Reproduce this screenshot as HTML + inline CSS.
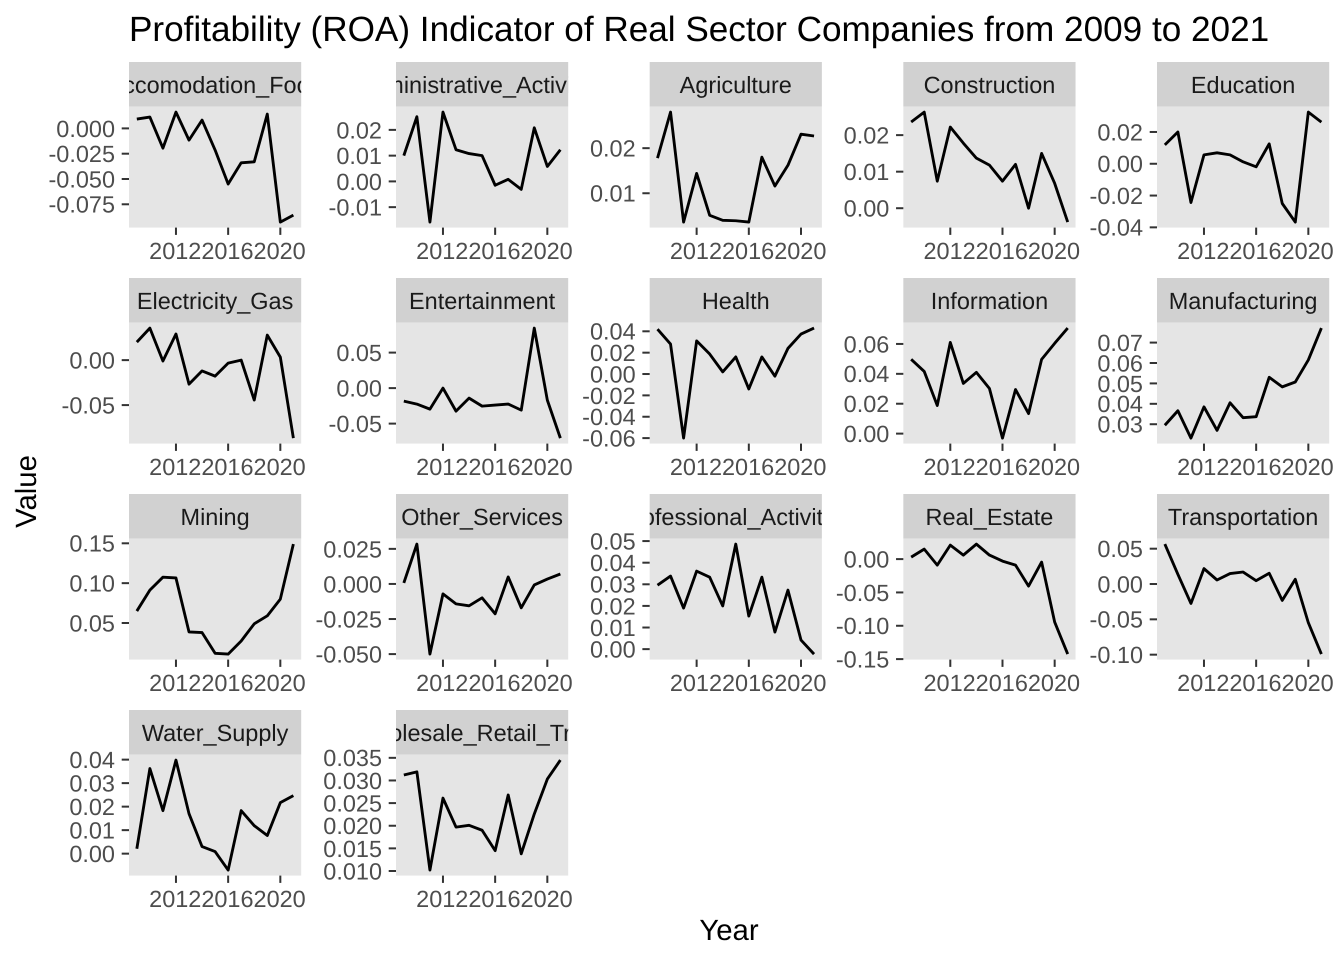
<!DOCTYPE html>
<html lang="en">
<head>
<meta charset="utf-8">
<title>Profitability (ROA) Indicator of Real Sector Companies</title>
<style>
  html, body { margin: 0; padding: 0; background: #ffffff; }
  svg { display: block; font-family: "Liberation Sans", Arial, sans-serif; text-rendering: geometricPrecision; }
</style>
</head>
<body>
<svg id="chart" width="1344" height="960" viewBox="0 0 1344 960" xmlns="http://www.w3.org/2000/svg">
  <rect width="1344" height="960" fill="#ffffff"/>
  <text x="129" y="41" font-size="35.14" fill="#000000">Profitability (ROA) Indicator of Real Sector Companies from 2009 to 2021</text>
  <text x="729" y="940" font-size="29.33" fill="#000000" text-anchor="middle">Year</text>
  <text transform="translate(36 491.5) rotate(-90)" font-size="29.33" fill="#000000" text-anchor="middle">Value</text>
  <g id="panels"></g>
</svg>
<script>
const years = [2009, 2010, 2011, 2012, 2013, 2014, 2015, 2016, 2017, 2018, 2019, 2020, 2021];
const xTickYears = [2012, 2016, 2020];

const accommodationValues = [0.0092, 0.0112, -0.0195, 0.0161, -0.0116, 0.0082, -0.0214, -0.055, -0.034, -0.033, 0.0141, -0.0926, -0.0857];
const administrativeValues = [0.01, 0.0251, -0.0158, 0.0269, 0.0123, 0.0108, 0.01, -0.0015, 0.0008, -0.0031, 0.0208, 0.0058, 0.0123];
const agricultureValues = [0.0178, 0.028, 0.0036, 0.0144, 0.0051, 0.004, 0.0039, 0.0036, 0.018, 0.0116, 0.0162, 0.0231, 0.0227];
const constructionValues = [0.0236, 0.0263, 0.0074, 0.0222, 0.0178, 0.0137, 0.0118, 0.0074, 0.012, 0.0, 0.015, 0.0068, -0.0038];
const educationValues = [0.0119, 0.02, -0.0244, 0.0056, 0.0069, 0.0056, 0.0012, -0.0019, 0.0125, -0.025, -0.0367, 0.0325, 0.0262];
const electricityValues = [0.02, 0.0356, -0.001, 0.029, -0.0267, -0.012, -0.0178, -0.0033, 0.0, -0.0444, 0.0278, 0.0033, -0.0867];
const entertainmentValues = [-0.0183, -0.0225, -0.0296, 0.0, -0.0324, -0.0141, -0.0254, -0.0239, -0.0225, -0.031, 0.0845, -0.0169, -0.0704];
const healthValues = [0.042, 0.028, -0.06, 0.031, 0.0187, 0.002, 0.016, -0.014, 0.016, -0.002, 0.024, 0.0374, 0.043];
const informationValues = [0.0497, 0.0416, 0.0188, 0.061, 0.0336, 0.041, 0.0302, -0.003, 0.0295, 0.0134, 0.0497, 0.0604, 0.0706];
const manufacturingValues = [0.0295, 0.0366, 0.0232, 0.0385, 0.027, 0.0405, 0.0332, 0.0337, 0.053, 0.0483, 0.0507, 0.0615, 0.0771];
const miningValues = [0.065, 0.0913, 0.1075, 0.1065, 0.0388, 0.038, 0.012, 0.011, 0.0275, 0.049, 0.059, 0.08, 0.149];
const otherServicesValues = [0.0007, 0.0284, -0.05, -0.0071, -0.0142, -0.0156, -0.0099, -0.0213, 0.005, -0.017, -0.0007, 0.0035, 0.0071];
const professionalValues = [0.0296, 0.0338, 0.019, 0.0361, 0.0333, 0.02, 0.0486, 0.0153, 0.0333, 0.0079, 0.0273, 0.0042, -0.0023];
const realEstateValues = [0.003, 0.015, -0.009, 0.021, 0.006, 0.0225, 0.006, -0.003, -0.009, -0.0405, -0.0045, -0.0945, -0.1425];
const transportationValues = [0.0565, 0.0137, -0.0275, 0.0218, 0.0057, 0.0148, 0.017, 0.0048, 0.0152, -0.0232, 0.0067, -0.0548, -0.0992];
const waterSupplyValues = [0.0021, 0.0362, 0.0183, 0.0398, 0.017, 0.003, 0.0009, -0.007, 0.0183, 0.0119, 0.0077, 0.0217, 0.0247];
const wholesaleValues = [0.0312, 0.0319, 0.0102, 0.0261, 0.0197, 0.0201, 0.019, 0.0145, 0.0268, 0.0138, 0.0226, 0.0303, 0.0345];

const accommodationTicks = ["0.000", "-0.025", "-0.050", "-0.075"];
const administrativeTicks = ["0.02", "0.01", "0.00", "-0.01"];
const agricultureTicks = ["0.02", "0.01"];
const constructionTicks = ["0.02", "0.01", "0.00"];
const educationTicks = ["0.02", "0.00", "-0.02", "-0.04"];
const electricityTicks = ["0.00", "-0.05"];
const entertainmentTicks = ["0.05", "0.00", "-0.05"];
const healthTicks = ["0.04", "0.02", "0.00", "-0.02", "-0.04", "-0.06"];
const informationTicks = ["0.06", "0.04", "0.02", "0.00"];
const manufacturingTicks = ["0.07", "0.06", "0.05", "0.04", "0.03"];
const miningTicks = ["0.15", "0.10", "0.05"];
const otherServicesTicks = ["0.025", "0.000", "-0.025", "-0.050"];
const professionalTicks = ["0.05", "0.04", "0.03", "0.02", "0.01", "0.00"];
const realEstateTicks = ["0.00", "-0.05", "-0.10", "-0.15"];
const transportationTicks = ["0.05", "0.00", "-0.05", "-0.10"];
const waterSupplyTicks = ["0.04", "0.03", "0.02", "0.01", "0.00"];
const wholesaleTicks = ["0.035", "0.030", "0.025", "0.020", "0.015", "0.010"];

const sectorNames = ["Accomodation_Food", "Administrative_Activities", "Agriculture", "Construction", "Education", "Electricity_Gas", "Entertainment", "Health", "Information", "Manufacturing", "Mining", "Other_Services", "Professional_Activities", "Real_Estate", "Transportation", "Water_Supply", "Wholesale_Retail_Trade"];
const sectorSeries = [accommodationValues, administrativeValues, agricultureValues, constructionValues, educationValues, electricityValues, entertainmentValues, healthValues, informationValues, manufacturingValues, miningValues, otherServicesValues, professionalValues, realEstateValues, transportationValues, waterSupplyValues, wholesaleValues];
const sectorTicks = [accommodationTicks, administrativeTicks, agricultureTicks, constructionTicks, educationTicks, electricityTicks, entertainmentTicks, healthTicks, informationTicks, manufacturingTicks, miningTicks, otherServicesTicks, professionalTicks, realEstateTicks, transportationTicks, waterSupplyTicks, wholesaleTicks];

const NS = "http://www.w3.org/2000/svg";
const COLUMNS = 5;
const PANEL_W = 172.2;
const STRIP_H = 44.6;
const PANEL_H = 121;
const TICK_LEN = 7.3;

function columnLeft(col) {
  return col === 0 ? 129 : 396 + (col - 1) * 253.67;
}
function rowTop(row) {
  return 62 + row * 216;
}
function make(tag, attrs, parent) {
  const el = document.createElementNS(NS, tag);
  Object.keys(attrs).forEach(function (k) { el.setAttribute(k, attrs[k]); });
  parent.appendChild(el);
  return el;
}
function slug(name) {
  return name.toLowerCase().replace(/_/g, "-");
}

const root = document.getElementById("panels");
const xMin = years[0] - 0.05 * (years[years.length - 1] - years[0]);
const xMax = years[years.length - 1] + 0.05 * (years[years.length - 1] - years[0]);

sectorNames.forEach(function (name, i) {
  const col = i % COLUMNS;
  const row = Math.floor(i / COLUMNS);
  const left = columnLeft(col);
  const top = rowTop(row);
  const panelTop = top + STRIP_H;
  const panelBottom = panelTop + PANEL_H;
  const values = sectorSeries[i];

  const low = Math.min.apply(null, values);
  const high = Math.max.apply(null, values);
  const pad = (high - low) * 0.05;
  const xScale = function (year) { return left + PANEL_W * (year - xMin) / (xMax - xMin); };
  const yScale = function (v) { return panelBottom - PANEL_H * (v - (low - pad)) / ((high + pad) - (low - pad)); };

  const group = make("g", {}, root);
  
  

  const clip = make("clipPath", { id: "strip-clip-" + i }, group);
  make("rect", { x: left, y: top, width: PANEL_W, height: STRIP_H }, clip);

  const strip = make("rect", { x: left, y: top, width: PANEL_W, height: STRIP_H, fill: "#D1D1D1" }, group);
  
  

  const stripLabelGroup = make("g", { "clip-path": "url(#strip-clip-" + i + ")" }, group);
  const stripLabel = make("text", { x: left + PANEL_W / 2, y: top + 31, "font-size": 23.47, fill: "#1A1A1A", "text-anchor": "middle" }, stripLabelGroup);
  
  
  stripLabel.textContent = name;

  const panel = make("rect", { x: left, y: panelTop, width: PANEL_W, height: PANEL_H, fill: "#E5E5E5" }, group);
  
  

  sectorTicks[i].forEach(function (label) {
    const y = yScale(parseFloat(label));
    const tick = make("line", { x1: left - TICK_LEN, x2: left, y1: y, y2: y, stroke: "#333333", "stroke-width": 2 }, group);
    
    
    const text = make("text", { x: left - 14, y: y + 8.4, "font-size": 23.47, fill: "#4D4D4D", "text-anchor": "end" }, group);
    
    
    text.textContent = label;
  });

  xTickYears.forEach(function (year) {
    const x = xScale(year);
    const tick = make("line", { x1: x, x2: x, y1: panelBottom, y2: panelBottom + TICK_LEN, stroke: "#333333", "stroke-width": 2 }, group);
    
    
    const text = make("text", { x: x - 0.7, y: panelBottom + 31.3, "font-size": 23.47, fill: "#4D4D4D", "text-anchor": "middle" }, group);
    
    
    text.textContent = String(year);
  });

  const points = values.map(function (v, k) {
    return xScale(years[k]).toFixed(2) + "," + yScale(v).toFixed(2);
  }).join(" ");
  const line = make("polyline", { points: points, fill: "none", stroke: "#000000", "stroke-width": 2.85, "stroke-linejoin": "round" }, group);
  
  
});
</script>
</body>
</html>
